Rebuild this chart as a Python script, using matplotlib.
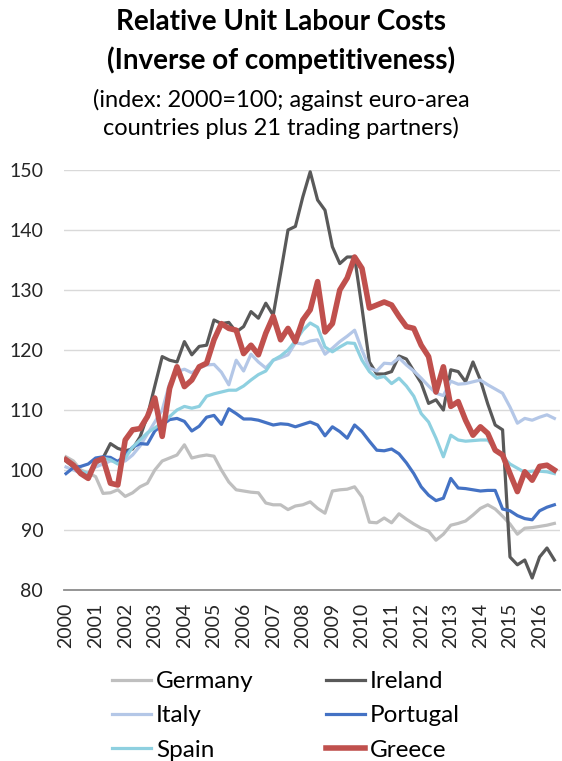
import numpy as np
import matplotlib
matplotlib.use("Agg")
import matplotlib.pyplot as plt

plt.rcParams['font.family'] = ['Lato', 'DejaVu Sans']

# quarterly index values, 2000Q1 .. 2016Q3 (2000=100)
germany = [102.2, 101.5, 100.0, 99.5, 98.9, 96.1, 96.2, 96.7, 95.6, 96.2,
           97.2, 97.8, 100.0, 101.5, 102.0, 102.5, 104.2, 102.0, 102.3, 102.5,
           102.3, 100.0, 98.0, 96.7, 96.5, 96.3, 96.2, 94.5, 94.2, 94.2,
           93.4, 94.0, 94.2, 94.7, 93.6, 92.8, 96.5, 96.7, 96.8, 97.2,
           95.5, 91.3, 91.2, 92.0, 91.2, 92.7, 91.8, 91.0, 90.3, 89.8,
           88.3, 89.3, 90.8, 91.1, 91.5, 92.5, 93.6, 94.2, 93.5, 92.3,
           91.0, 89.3, 90.3, 90.4, 90.6, 90.8, 91.1]
ireland = [101.5, 100.5, 99.5, 99.0, 101.0, 102.0, 104.4, 103.6, 103.2, 103.5,
           105.5, 109.0, 114.0, 118.9, 118.3, 118.0, 121.4, 119.2, 120.6, 120.8,
           125.0, 124.4, 124.6, 123.0, 123.9, 126.4, 125.3, 127.8, 125.8, 132.8,
           140.0, 140.6, 145.5, 149.7, 145.0, 143.3, 137.2, 134.4, 135.5, 135.5,
           127.0, 118.0, 116.0, 116.0, 116.4, 119.0, 118.5, 116.5, 114.5, 111.1,
           111.7, 110.0, 116.7, 116.4, 114.7, 118.0, 115.0, 111.0, 107.5, 106.7,
           85.5, 84.2, 85.0, 82.0, 85.5, 87.0, 85.0]
italy = [100.5, 100.0, 99.5, 99.5, 100.5, 101.0, 101.5, 101.5, 101.5, 102.5,
         104.0, 106.0, 108.0, 110.0, 114.4, 116.4, 116.8, 116.2, 117.0, 117.5,
         117.6, 116.3, 114.2, 118.3, 116.5, 119.3, 118.0, 117.0, 118.3, 118.7,
         119.2, 121.2, 121.0, 121.5, 121.7, 119.3, 120.3, 121.4, 122.3, 123.3,
         120.0, 117.0, 116.5, 117.8, 117.7, 118.7, 117.5, 116.5, 115.3, 114.0,
         112.8, 112.4, 114.8, 114.3, 114.4, 114.7, 115.0, 114.2, 113.5, 112.8,
         110.5, 107.8, 108.6, 108.3, 108.8, 109.2, 108.6]
portugal = [99.4, 100.4, 100.6, 101.0, 102.0, 102.2, 102.1, 101.4, 102.5, 103.8,
            104.4, 104.3, 106.5, 107.5, 108.4, 108.6, 108.1, 106.5, 107.3, 108.8,
            109.1, 107.6, 110.2, 109.4, 108.5, 108.5, 108.3, 107.9, 107.5, 107.7,
            107.6, 107.2, 107.6, 108.0, 107.5, 105.7, 107.2, 106.4, 105.3, 107.5,
            106.4, 104.8, 103.3, 103.2, 103.5, 102.7, 101.2, 99.4, 97.2, 95.8,
            94.9, 95.3, 98.6, 97.0, 96.9, 96.7, 96.5, 96.6, 96.6, 93.5,
            93.2, 92.4, 91.9, 91.7, 93.2, 93.8, 94.2]
spain = [101.5, 100.8, 99.8, 99.4, 101.0, 102.0, 101.7, 101.0, 102.0, 103.8,
         105.0, 106.2, 107.0, 107.9, 108.9, 110.0, 110.6, 110.3, 110.6, 112.3,
         112.7, 113.0, 113.3, 113.3, 114.0, 115.0, 115.9, 116.5, 118.3, 119.0,
         120.0, 121.5, 123.3, 124.5, 123.8, 120.5, 119.7, 120.5, 121.2, 121.1,
         118.3, 116.4, 115.3, 115.6, 114.4, 115.3, 114.0, 112.3, 109.4, 108.0,
         105.3, 102.2, 105.8, 105.0, 104.8, 104.9, 105.0, 105.0, 103.5, 102.2,
         101.0, 100.3, 99.6, 99.8, 99.8, 99.7, 99.4]
greece = [101.7, 100.8, 99.4, 98.6, 101.4, 101.9, 97.8, 97.5, 105.0, 106.7,
          106.9, 108.9, 112.0, 105.6, 113.6, 117.2, 113.9, 115.0, 117.2, 117.8,
          121.7, 124.4, 123.6, 123.3, 119.4, 120.8, 119.2, 122.8, 125.6, 121.7,
          123.6, 121.4, 125.0, 126.7, 131.4, 123.0, 124.4, 130.0, 132.0, 135.5,
          133.6, 127.0, 127.5, 128.0, 127.5, 125.6, 123.9, 123.6, 120.8, 118.9,
          113.0, 117.2, 110.6, 111.4, 108.3, 105.8, 107.2, 106.1, 103.3, 102.5,
          99.4, 96.4, 99.7, 98.3, 100.6, 100.8, 100.0]

years = list(range(2000, 2017))
t = 2000 + np.arange(len(greece)) / 4

series = [
    ("Germany", germany, "#BFBFBF", 2.3),
    ("Ireland", ireland, "#595959", 2.3),
    ("Italy", italy, "#B4C7E7", 2.3),
    ("Portugal", portugal, "#4472C4", 2.3),
    ("Spain", spain, "#8ED0E0", 2.3),
    ("Greece", greece, "#C0504D", 4.0),
]

fig = plt.figure(figsize=(5.62, 7.61), dpi=100)
ax = fig.add_axes([64 / 562, 1 - 590 / 761, 496 / 562, 420 / 761])

lines = {}
for name, vals, col, lw in series:
    lines[name], = ax.plot(t, vals, color=col, lw=lw, label=name,
                           solid_joinstyle='round')

ax.set_ylim(80, 150)
ax.set_yticks(range(80, 151, 10))
ax.set_xlim(2000 - 0.068, 2016.69)
ax.set_xticks(years)
ax.set_xticklabels([str(y) for y in years], rotation=90)
ax.grid(axis='y', color='#D9D9D9', lw=1)
ax.set_axisbelow(True)
for s in ['top', 'right', 'left']:
    ax.spines[s].set_visible(False)
ax.spines['bottom'].set_color('#8C8C8C')
ax.spines['bottom'].set_linewidth(1.3)
ax.tick_params(axis='y', length=0, pad=15, labelsize=14, labelcolor='#262626')
ax.tick_params(axis='x', length=0, pad=9, labelsize=14, labelcolor='#262626')

fig.text(0.5, 1 - 22 / 761, "Relative Unit Labour Costs", ha='center', va='center',
         fontsize=20, fontweight='bold')
fig.text(0.5, 1 - 60 / 761, "(Inverse of competitiveness)", ha='center', va='center',
         fontsize=20, fontweight='bold')
fig.text(0.5, 1 - 100 / 761, "(index: 2000=100; against euro-area", ha='center',
         va='center', fontsize=17)
fig.text(0.5, 1 - 128 / 761, "countries plus 21 trading partners)", ha='center',
         va='center', fontsize=17)

order = ["Germany", "Italy", "Spain", "Ireland", "Portugal", "Greece"]
fig.legend([lines[n] for n in order], order, ncol=2, frameon=False,
           loc='upper left', bbox_to_anchor=(112 / 562, 1 - 671 / 761),
           fontsize=17.5, handlelength=1.6, handletextpad=0.2,
           columnspacing=3.0, labelspacing=0.55, borderpad=0, borderaxespad=0)

fig.savefig("out.png", dpi=100)
